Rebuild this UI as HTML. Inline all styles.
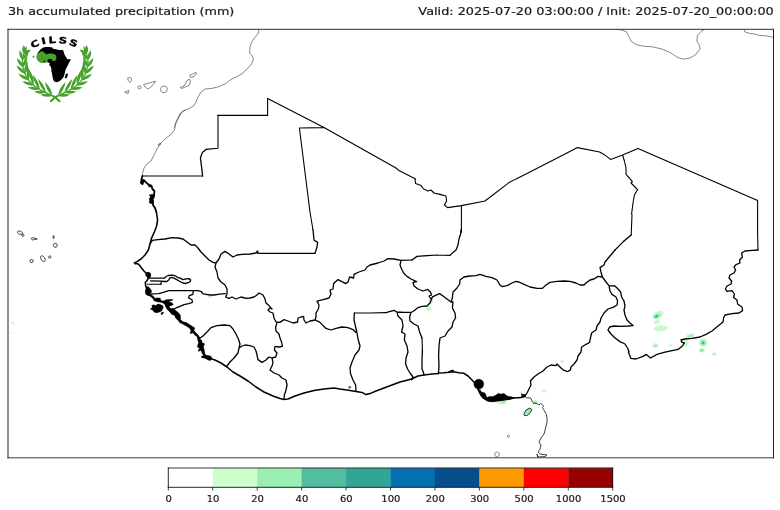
<!DOCTYPE html>
<html lang="en"><head><meta charset="utf-8"><title>3h accumulated precipitation (mm)</title>
<style>
html,body{margin:0;padding:0;background:#fff;}
body{width:780px;height:510px;overflow:hidden;font-family:"DejaVu Sans","Liberation Sans",sans-serif;}
svg{display:block;}
text{font-family:"DejaVu Sans","Liberation Sans",sans-serif;fill:#1a1a1a;}
.t{font-size:11.3px;stroke:#1a1a1a;stroke-width:0.22px;}
.k{font-size:8.4px;text-anchor:middle;stroke:#1a1a1a;stroke-width:0.18px;}
.bs{fill:none;stroke:#000;stroke-width:1.1;stroke-linejoin:round;stroke-linecap:round;}
.b{fill:none;stroke:#000;stroke-width:1.3;stroke-linejoin:round;stroke-linecap:round;}
.c{fill:none;stroke:#222;stroke-width:0.55;stroke-linejoin:round;stroke-linecap:round;}
.kc{fill:none;stroke:#000;stroke-width:1.55;stroke-linejoin:round;stroke-linecap:round;}
.kc2{fill:none;stroke:#000;stroke-width:1.8;stroke-linejoin:round;stroke-linecap:round;}
.cv{fill:none;stroke:#111;stroke-width:0.8;stroke-linejoin:round;}
.m{fill:#000;stroke:#000;stroke-width:0.15;stroke-linejoin:round;}
</style></head><body>
<svg width="780" height="510" viewBox="0 0 780 510">
<rect x="0" y="0" width="780" height="510" fill="#fff"/>
<text class="t" transform="translate(7.9,15.0) scale(1.131,1)">3h accumulated precipitation (mm)</text>
<text class="t" transform="translate(773.7,15.0) scale(1.136,1)" text-anchor="end">Valid: 2025-07-20 03:00:00 / Init: 2025-07-20_00:00:00</text>
<defs><clipPath id="ax"><rect x="8.2" y="29.5" width="765.3" height="428.5"/></clipPath>
<filter id="bl" x="-50%" y="-50%" width="200%" height="200%"><feGaussianBlur stdDeviation="0.6"/></filter></defs>
<g clip-path="url(#ax)">
<g id="precip">
<g filter="url(#bl)">
<ellipse cx="657.9" cy="315.0" rx="6.1" ry="3.5" transform="rotate(-28 657.9 315.0)" fill="#c6f9cc"/>
<ellipse cx="657.1" cy="316.0" rx="3.5" ry="2.2" transform="rotate(-28 657.1 316.0)" fill="#9aeeb4"/>
<ellipse cx="656.4" cy="316.4" rx="2.1" ry="1.3" transform="rotate(-28 656.4 316.4)" fill="#5cc0a2"/>
<ellipse cx="656.2" cy="316.5" rx="0.9" ry="0.6" transform="rotate(-28 656.2 316.5)" fill="#35a897"/>
<ellipse cx="656.8" cy="322.0" rx="3.4" ry="2.0" transform="rotate(-25 656.8 322.0)" fill="#c6f9cc"/>
<ellipse cx="660.8" cy="328.3" rx="7.1" ry="2.7" transform="rotate(-5 660.8 328.3)" fill="#c6f9cc"/>
<ellipse cx="655.4" cy="345.7" rx="3.0" ry="2.4" transform="rotate(0 655.4 345.7)" fill="#c6f9cc"/>
<ellipse cx="655.4" cy="345.9" rx="1.4" ry="1.0" transform="rotate(0 655.4 345.9)" fill="#9aeeb4"/>
<ellipse cx="670.3" cy="345.3" rx="1.5" ry="1.4" transform="rotate(0 670.3 345.3)" fill="#c6f9cc"/>
<ellipse cx="690.3" cy="336.1" rx="4.6" ry="2.4" transform="rotate(-20 690.3 336.1)" fill="#c6f9cc"/>
<ellipse cx="690.3" cy="336.3" rx="2.3" ry="1.2" transform="rotate(-20 690.3 336.3)" fill="#9aeeb4"/>
<ellipse cx="685.7" cy="343.0" rx="2.8" ry="3.5" transform="rotate(0 685.7 343.0)" fill="#c6f9cc"/>
<ellipse cx="680.7" cy="339.9" rx="1.3" ry="1.5" transform="rotate(0 680.7 339.9)" fill="#c6f9cc"/>
<ellipse cx="703.0" cy="342.6" rx="4.2" ry="4.3" transform="rotate(0 703.0 342.6)" fill="#c6f9cc"/>
<ellipse cx="703.0" cy="342.8" rx="2.7" ry="2.7" transform="rotate(0 703.0 342.8)" fill="#9aeeb4"/>
<ellipse cx="703.0" cy="342.8" rx="1.6" ry="1.6" transform="rotate(0 703.0 342.8)" fill="#5cc0a2"/>
<ellipse cx="703.0" cy="342.9" rx="0.7" ry="0.7" transform="rotate(0 703.0 342.9)" fill="#35a897"/>
<ellipse cx="701.9" cy="350.3" rx="3.0" ry="2.3" transform="rotate(0 701.9 350.3)" fill="#c6f9cc"/>
<ellipse cx="701.9" cy="350.4" rx="1.6" ry="1.3" transform="rotate(0 701.9 350.4)" fill="#9aeeb4"/>
<ellipse cx="701.9" cy="350.4" rx="0.7" ry="0.6" transform="rotate(0 701.9 350.4)" fill="#5cc0a2"/>
<ellipse cx="714.3" cy="354.0" rx="2.3" ry="1.7" transform="rotate(20 714.3 354.0)" fill="#c6f9cc"/>
<ellipse cx="714.3" cy="354.0" rx="1.0" ry="0.7" transform="rotate(20 714.3 354.0)" fill="#9aeeb4"/>
<ellipse cx="430.8" cy="301.2" rx="2.3" ry="2.6" transform="rotate(20 430.8 301.2)" fill="#c6f9cc"/>
<ellipse cx="428.5" cy="308.5" rx="2.6" ry="2.5" transform="rotate(0 428.5 308.5)" fill="#c6f9cc"/>
<ellipse cx="562.0" cy="361.4" rx="1.8" ry="1.5" transform="rotate(0 562.0 361.4)" fill="#c6f9cc"/>
<ellipse cx="544.0" cy="391.0" rx="2.4" ry="1.8" transform="rotate(0 544.0 391.0)" fill="#c6f9cc"/>
<ellipse cx="535.2" cy="402.3" rx="2.4" ry="2.1" transform="rotate(0 535.2 402.3)" fill="#c6f9cc"/>
<ellipse cx="535.2" cy="402.3" rx="1.5" ry="1.3" transform="rotate(0 535.2 402.3)" fill="#9aeeb4"/>
<ellipse cx="501.6" cy="402.6" rx="5.2" ry="1.7" transform="rotate(-5 501.6 402.6)" fill="#c6f9cc"/>
<ellipse cx="503.0" cy="402.4" rx="2.0" ry="0.9" transform="rotate(0 503.0 402.4)" fill="#9aeeb4"/>
<ellipse cx="535.6" cy="413.0" rx="0.8" ry="0.8" transform="rotate(0 535.6 413.0)" fill="#c6f9cc"/>
<ellipse cx="527.5" cy="412.0" rx="5.0" ry="3.0" transform="rotate(-42 527.5 412.0)" fill="#c6f9cc"/>
<path d="M524.0,414.0 L526.0,410.0 L530.0,408.0 L532.0,409.6 L530.0,413.0 L527.0,415.6 L524.4,415.6Z" fill="#9aeeb4"/>
<ellipse cx="210.0" cy="296.2" rx="2.2" ry="1.5" transform="rotate(-10 210.0 296.2)" fill="#b4f5c0"/>
<ellipse cx="12.9" cy="323.0" rx="1.6" ry="1.2" transform="rotate(20 12.9 323.0)" fill="#c6f9cc"/>
<ellipse cx="10.7" cy="332.7" rx="1.2" ry="0.7" transform="rotate(0 10.7 332.7)" fill="#c6f9cc"/>
</g>

</g>
<g id="coast">
<path class="c" d="M259.0,29.0 L258.4,33.0 L255.0,37.4 L251.6,42.0 L250.0,47.0 L249.6,53.0 L252.4,56.0 L253.4,59.4 L251.6,64.0 L248.0,68.0 L243.0,73.0 L237.0,76.6 L231.0,79.4 L226.0,83.4 L219.0,86.6 L212.0,88.4 L205.0,89.0 L201.0,92.0 L198.0,97.0 L196.0,102.0 L193.6,106.0 L189.0,108.6 L184.0,110.6 L180.4,113.0 L178.0,118.0 L175.6,123.0 L174.4,127.0 M128.0,78.0 L130.0,77.4 L131.6,78.6 L131.2,81.0 L130.0,82.6 L128.6,81.0Z M125.0,92.0 L129.0,90.6 L128.0,93.4Z M141.0,87.4 L140.7,88.3 L139.9,88.9 L138.9,88.9 L138.1,88.3 L137.8,87.4 L138.1,86.5 L138.9,85.9 L139.9,85.9 L140.7,86.5Z M144.0,84.4 L151.0,82.4 L155.6,81.2 L154.4,83.0 L151.0,87.0 L148.0,89.0 L145.6,87.4Z M167.2,89.4 L166.6,91.4 L164.9,92.6 L162.7,92.6 L161.0,91.4 L160.4,89.4 L161.0,87.4 L162.7,86.2 L164.9,86.2 L166.6,87.4Z M180.4,87.4 L184.0,86.0 L187.0,80.6 L189.6,79.0 L190.6,82.0 L189.0,85.4 L185.0,87.0 L182.0,88.4Z M190.0,75.0 L193.6,73.6 L196.0,72.4 L196.4,74.0 L194.0,76.4 L191.0,77.4Z M185.0,110.0 L182.0,112.0 L179.0,117.0 L176.0,123.0 L174.4,130.0 L171.0,134.4 L165.0,139.0 L160.0,144.0 L157.0,149.0 L154.0,155.0 L151.0,161.0 L147.0,164.0 L144.0,168.0 L142.6,173.0 L142.4,176.0 M160.5,143.5 L160.6,143.9 L160.4,144.5 L159.9,145.0 L159.3,145.4 L158.7,145.5 L158.3,145.3 L158.2,144.9 L158.4,144.3 L158.9,143.8 L159.5,143.4 L160.1,143.3Z M615.0,29.2 L621.9,30.1 L626.5,31.9 L628.8,36.5 L631.2,41.2 L635.8,44.6 L643.8,46.2 L653.1,46.9 L662.3,49.2 L670.4,52.7 L677.3,57.3 L683.1,59.2 L690.0,58.0 L695.8,54.5 L699.9,49.2 L699.7,45.8 L696.9,41.2 L697.4,35.4 L701.1,31.5 L705.0,29.2 M744.2,29.2 L744.9,31.9 L750.0,33.5 L755.8,34.2 L759.2,35.4 L766.2,35.8 L771.9,37.0 L773.5,37.7 M509.4,436.2 L509.2,436.8 L508.7,437.2 L508.1,437.2 L507.6,436.8 L507.4,436.2 L507.6,435.6 L508.1,435.2 L508.7,435.2 L509.2,435.6Z M499.4,454.4 L498.9,455.8 L497.7,456.7 L496.3,456.7 L495.1,455.8 L494.6,454.4 L495.1,453.0 L496.3,452.1 L497.7,452.1 L498.9,453.0Z M350.6,387.6 L350.5,387.9 L350.1,388.1 L349.6,388.2 L349.1,388.1 L348.7,387.9 L348.6,387.6 L348.7,387.3 L349.1,387.1 L349.6,387.0 L350.1,387.1 L350.5,387.3Z M350.4,387.0 L350.3,387.3 L350.0,387.5 L349.6,387.6 L349.2,387.5 L348.9,387.3 L348.8,387.0 L348.9,386.7 L349.2,386.5 L349.6,386.4 L350.0,386.5 L350.3,386.7Z"/>
<path class="cv" d="M525.0,396.0 L526.4,398.0 L529.0,397.6 L531.0,398.4 L532.0,401.0 L533.6,403.6 L536.0,403.0 L539.0,405.0 L540.4,403.6 L542.0,404.4 L543.6,406.0 L542.4,407.6 L543.6,409.6 L545.0,412.0 L546.4,414.4 L547.0,418.0 L547.0,422.0 L545.6,428.0 L544.0,434.0 L541.0,438.0 L539.0,442.0 L541.0,445.0 L540.0,449.0 L538.0,452.0 L540.0,454.0 L547.0,455.0 L545.0,456.6 L538.0,457.0 L537.0,454.0 L538.0,457.6 M524.0,414.0 L526.0,410.0 L530.0,408.0 L532.0,409.6 L530.0,413.0 L527.0,415.6 L524.4,415.6Z M22.5,233.6 L21.9,234.2 L20.8,234.4 L19.5,234.2 L18.3,233.5 L17.6,232.6 L17.5,231.8 L18.1,231.1 L19.2,230.9 L20.5,231.2 L21.7,231.8 L22.4,232.7Z M24.0,235.3 L23.8,236.0 L23.3,236.3 L22.6,236.3 L22.1,236.0 L21.9,235.3 L22.1,234.7 L22.6,234.3 L23.3,234.3 L23.8,234.7Z M31.3,238.3 L33.3,237.6 L35.3,238.4 L37.3,239.1 L34.9,239.3 L32.7,240.0 L31.7,239.3Z M54.1,237.1 L54.1,237.9 L53.9,238.5 L53.6,238.7 L53.3,238.5 L53.1,237.9 L53.1,237.1 L53.1,236.3 L53.3,235.7 L53.6,235.5 L53.9,235.7 L54.1,236.3Z M57.3,245.3 L57.0,246.5 L56.0,247.2 L54.7,247.2 L53.7,246.5 L53.3,245.3 L53.7,244.2 L54.7,243.4 L56.0,243.4 L57.0,244.2Z M44.5,257.7 L45.1,259.2 L45.1,260.6 L44.5,261.4 L43.5,261.5 L42.3,260.9 L41.3,259.6 L40.7,258.1 L40.7,256.7 L41.3,255.9 L42.4,255.8 L43.5,256.5Z M50.9,257.1 L50.7,257.8 L50.1,258.2 L49.4,258.2 L48.8,257.8 L48.5,257.1 L48.8,256.4 L49.4,255.9 L50.1,255.9 L50.7,256.4Z M33.2,260.9 L32.9,261.9 L32.1,262.5 L31.1,262.5 L30.3,261.9 L30.0,260.9 L30.3,260.0 L31.1,259.4 L32.1,259.4 L32.9,260.0Z"/>

</g>
<g id="borders">
<path class="bs" d="M142.4,176.0 L202.6,176.0 M206.0,149.4 L218.0,148.2 M218.0,148.2 L218.0,115.4 M217.6,115.4 L267.6,115.4 M267.6,115.4 L267.6,98.4 M267.6,98.4 L324.0,127.6 M324.0,127.6 L299.4,128.0 M299.4,128.0 L310.0,212.0 M310.0,212.0 L313.0,230.0 M315.0,253.4 L290.0,253.4 M290.0,253.4 L258.0,253.4 M324.0,127.6 L396.0,168.0 M396.0,168.0 L399.0,170.6 M399.0,170.6 L415.6,179.0 M415.6,179.0 L415.0,179.0 L415.6,183.6 L421.0,185.6 L423.6,189.0 L428.0,191.0 L431.0,190.0 L434.0,193.0 L440.0,194.4 L446.0,196.0 L446.6,201.0 L444.4,205.0 L447.6,207.6 M447.6,207.6 L461.4,205.6 M461.4,205.6 L485.0,201.0 M485.0,201.0 L509.0,182.6 M509.0,182.6 L566.0,153.4 M566.0,153.4 L577.4,147.6 M577.4,147.6 L599.6,152.0 M599.6,152.0 L604.0,154.4 L610.6,159.4 M610.6,159.4 L622.6,155.0 M622.6,155.0 L638.0,148.4 M638.0,148.4 L757.6,200.4 M757.6,200.4 L757.6,232.0 M757.6,232.0 L758.0,250.0 M622.6,155.0 L624.4,161.0 L626.0,168.0 L626.0,174.4 L629.0,177.6 L632.4,181.6 L631.0,183.0 L634.0,186.0 L637.6,189.6 L634.4,195.0 L633.0,203.0 M633.0,203.0 L631.6,214.0 M631.6,214.0 L632.0,215.0 M632.0,215.0 L631.2,235.0 M624.0,241.0 L615.0,250.0 M461.4,205.6 L461.4,232.0 M450.0,255.4 L438.0,255.0 M438.0,255.0 L427.0,255.6 M412.0,260.0 L401.0,260.4 M386.0,312.6 L370.0,313.0 M370.0,313.0 L354.4,313.0 M422.0,338.0 L422.4,350.0 M149.5,278.1 L164.5,278.1 M161.0,284.2 L147.5,284.2"/>
<path class="b" d="M202.6,176.0 L201.6,167.0 L200.4,158.0 L202.4,152.4 L206.0,149.4 M313.0,230.0 L314.0,240.0 L317.6,242.4 L317.0,247.0 L315.0,253.4 M258.0,253.4 L258.0,253.0 L257.6,251.0 L256.0,253.0 L250.0,254.0 L242.0,254.4 L237.0,255.0 L233.0,257.0 L229.0,254.0 L225.0,251.4 L221.0,254.0 L219.0,259.0 L216.0,263.0 M758.0,250.0 L752.0,250.4 L745.0,251.0 L741.6,253.0 L742.4,257.0 L739.6,260.0 L740.0,263.0 L736.0,264.6 L734.0,267.0 L735.6,270.0 L734.0,273.0 L730.0,275.0 L729.0,278.0 L731.6,281.0 L731.0,284.0 L727.0,286.0 L725.4,289.0 L727.0,291.4 L732.0,290.6 L734.4,294.0 L733.6,297.4 L737.0,300.0 L737.6,304.0 L742.0,307.0 L742.6,310.6 L739.0,313.0 L732.0,313.6 L725.0,315.0 L723.6,318.0 L723.0,322.0 L718.0,326.0 L712.0,331.0 L706.0,334.4 L700.0,337.0 L692.0,338.4 L685.0,339.0 L681.0,340.0 L682.0,342.4 L684.4,343.0 L682.4,346.0 L678.0,349.4 L672.0,350.6 L664.0,352.4 L657.0,354.4 L650.4,358.0 L646.4,354.4 L643.0,356.4 L636.0,359.0 L631.0,358.4 L628.4,352.0 L629.0,352.0 L628.0,349.0 L625.0,344.0 L620.0,341.6 L615.0,338.0 L611.0,334.0 L608.0,330.0 L609.6,327.0 L614.0,326.0 L620.0,326.4 L628.0,326.0 L633.0,325.6 L630.0,323.0 L627.0,320.0 L625.0,315.0 L624.0,310.0 L625.0,306.0 L624.0,301.0 L621.6,297.0 L620.6,292.0 L618.0,289.0 L615.0,286.0 L609.0,285.6 M609.0,285.6 L606.0,282.0 L602.4,277.0 M631.2,235.0 L624.0,241.0 M615.0,250.0 L610.0,256.0 L605.0,262.0 L604.0,265.0 L600.0,267.6 L601.0,272.0 L602.4,277.0 M602.4,277.0 L598.0,276.4 L594.0,279.0 L590.0,280.0 L586.0,283.0 L584.0,285.0 L580.0,285.0 L576.0,283.0 L570.0,281.4 L564.0,281.0 L557.0,281.4 L550.0,282.4 L546.0,285.0 L542.4,288.4 L537.0,288.4 L530.0,287.0 L524.0,284.4 L519.0,282.0 L516.0,281.4 L512.0,283.0 L507.0,285.6 L502.0,286.6 L500.0,285.0 L497.0,280.0 L492.0,277.6 L486.0,276.4 L480.0,274.4 L476.0,275.6 L470.0,276.0 L464.0,277.0 L460.0,280.0 L459.6,284.0 L457.0,288.0 L453.0,292.0 L452.4,298.0 L451.0,302.0 M609.0,285.6 L610.0,291.0 L612.0,294.4 L616.0,297.0 L617.6,301.0 L617.0,305.0 L613.0,307.4 L608.0,309.0 L604.0,313.0 L601.0,318.0 L600.0,322.0 L597.0,326.0 L596.0,330.0 L591.6,333.0 L590.0,340.0 L589.6,342.4 L585.0,345.0 L581.6,347.0 L581.0,352.0 L578.0,356.0 L577.0,360.0 L574.0,364.0 L571.0,367.0 L570.4,370.0 L567.6,371.6 L564.0,370.4 L561.0,368.0 L557.0,364.0 L556.0,365.6 L551.0,365.0 L547.0,367.0 L543.0,371.0 L538.0,374.0 L534.0,377.0 L530.4,381.0 L531.0,385.0 L529.0,389.0 L527.0,393.0 L525.0,396.0 M448.7,372.0 L451.3,370.7 L453.3,370.4 M461.4,232.0 L461.0,230.0 L460.6,234.0 L459.0,239.0 L458.0,245.0 L456.0,250.0 L453.0,252.4 L450.0,255.4 M427.0,255.6 L417.0,256.4 L412.0,260.0 M401.0,260.4 L394.0,259.0 L388.0,258.6 L384.0,261.0 L378.0,263.0 L370.0,265.0 L367.0,267.0 L365.0,270.0 L359.0,272.0 L354.0,274.4 L353.6,278.0 L349.6,277.0 L348.0,282.0 L345.6,283.6 L342.0,281.6 L338.0,279.6 L333.6,283.6 L333.0,289.0 L330.0,290.0 L331.0,294.0 L329.0,298.0 L324.0,299.4 L319.0,300.6 L317.0,301.4 L319.0,305.0 L318.4,309.0 L316.0,313.0 L316.0,317.0 L315.0,320.0 M401.0,260.4 L400.0,265.0 L401.6,269.0 L403.6,273.0 L407.0,276.4 L411.0,279.0 L416.6,281.6 L413.0,282.4 L414.0,286.0 L418.0,289.0 L423.0,291.0 L427.6,289.4 L430.4,292.0 L431.6,295.0 L429.0,296.0 L431.0,299.0 L432.4,297.0 M432.4,297.0 L435.0,295.6 L439.6,293.6 L443.0,296.0 L447.0,299.0 L451.0,302.0 M432.4,297.0 L430.0,303.0 L427.0,306.0 L422.0,306.4 L418.0,307.6 L415.0,310.0 L412.0,312.0 L411.0,312.4 L404.0,312.4 L397.0,312.0 L394.0,310.4 L386.0,312.6 M354.4,313.0 L354.0,320.0 L355.6,327.0 L357.0,333.0 L358.0,339.0 L360.0,346.0 L359.0,350.0 L355.0,355.0 L352.0,362.0 L350.0,368.0 L350.6,374.0 L353.0,380.0 L355.6,385.0 L356.0,391.0 M397.0,312.0 L398.0,316.0 L402.0,320.0 L403.0,326.0 L401.6,332.0 L405.0,334.0 L404.4,340.0 L407.0,346.0 L408.0,352.0 L406.0,358.0 L405.6,364.0 L407.6,369.0 L410.0,373.0 L413.0,377.0 L411.6,379.0 M411.0,312.4 L409.6,317.0 L410.0,321.0 L414.0,324.0 L418.0,326.0 L419.6,332.0 L422.0,338.0 M422.4,350.0 L422.0,360.0 L422.0,369.0 L423.6,373.0 L424.0,375.0 M451.0,302.0 L453.0,302.0 L452.4,308.0 L455.0,313.0 L455.6,318.0 L453.0,322.0 L452.0,327.0 L448.0,331.0 L445.0,336.0 L440.0,338.0 L439.0,346.0 L438.6,356.0 L439.0,366.0 L438.4,373.6 M225.6,297.0 L229.0,298.4 L232.0,297.0 L236.0,299.0 L241.0,297.0 L246.0,298.4 L250.0,298.0 L254.0,297.0 L257.0,295.0 L259.0,293.0 L263.0,295.0 L265.0,299.0 L266.0,303.0 L269.0,305.6 L272.0,309.0 L270.0,308.0 L268.0,310.0 L270.0,312.0 L273.0,313.0 L274.0,318.0 L276.0,322.0 L280.0,322.4 L284.0,319.6 L288.0,321.0 L293.0,323.0 L297.6,322.0 L298.0,318.0 L301.0,317.0 L303.6,316.4 L304.0,320.0 L306.0,323.0 L310.0,321.0 L315.0,320.0 M216.0,263.0 L215.0,267.0 L217.0,272.0 L218.0,278.0 L221.0,282.0 L225.0,285.0 L227.0,289.0 L227.0,294.0 L225.6,297.0 M315.4,320.0 L320.0,322.4 L323.0,325.6 L326.0,328.4 L331.0,330.0 L336.0,328.4 L342.0,327.0 L348.0,327.6 L353.0,329.6 L356.0,332.4 M277.0,323.0 L275.6,327.0 L276.0,331.0 L279.0,334.0 L280.0,338.0 L281.6,342.0 L282.4,346.4 L279.0,347.0 L275.0,346.4 L274.4,350.0 L277.0,353.0 L275.6,357.0 L272.0,358.0 M272.0,358.0 L273.0,362.4 L272.0,366.0 L270.0,370.0 L274.0,373.0 L279.0,375.0 L282.0,378.0 L286.0,380.0 L287.0,385.0 L286.0,390.0 L284.4,395.0 L284.0,399.0 M272.0,358.0 L269.0,357.0 L266.0,360.0 L262.0,362.4 L258.0,359.6 L257.0,355.0 L256.0,351.0 L254.0,347.0 L250.0,345.6 L245.0,345.0 L242.0,346.0 L239.0,348.0 M239.0,348.0 L238.0,353.0 L234.0,358.0 L230.0,362.0 L227.0,366.0 M239.0,348.0 L240.0,344.0 L238.4,339.0 L236.0,334.0 L233.0,329.0 L230.0,325.6 L224.0,325.0 L217.0,325.6 L211.0,327.6 L207.0,332.0 L203.0,336.0 L200.0,338.0 M150.0,244.0 L152.4,240.4 L158.0,239.6 L165.0,239.0 L172.0,237.6 L178.0,238.0 L183.0,239.0 L187.0,242.0 L191.0,245.0 L195.0,245.0 L198.0,248.0 L201.0,252.0 L205.0,256.0 L209.0,260.0 L213.0,262.4 L216.0,263.0 M164.5,278.1 L166.0,276.5 L168.3,275.5 L172.2,275.2 L175.2,275.8 L177.5,277.3 L180.2,278.1 L182.9,279.6 L186.0,278.8 L189.1,278.6 L190.6,280.0 L190.2,281.5 L188.3,282.7 L185.2,283.5 L182.2,282.7 L179.5,281.2 L176.8,279.6 L174.1,278.1 L171.4,277.3 L169.8,278.1 L168.7,280.0 L166.8,281.5 L164.5,281.5 L161.4,281.2 L161.0,284.2 M150.6,280.9 L161.4,281.2 M148.7,294.6 L153.3,293.9 L158.7,293.7 L163.3,292.3 L168.7,290.6 L176.7,290.6 L186.0,290.6 L193.3,290.6 L198.0,290.7 L201.3,291.7 L202.7,293.7 L206.0,294.3 L210.0,295.0 L214.0,295.0 L218.0,294.3 L222.0,293.9 L225.3,293.7 M193.3,290.6 L192.9,294.3 L189.3,295.7 L188.7,297.9 L192.0,299.7 L192.4,302.3 L188.7,303.7 L184.0,304.6 L180.0,306.3 L176.7,307.7 L174.0,309.0"/>
<path class="kc" d="M156.4,212.0 L157.6,220.0 L156.6,226.0 L154.4,232.0 L151.6,238.0 L150.0,244.0 L148.4,250.0 L145.0,255.0 L141.0,259.0 L137.0,261.6 L134.4,263.0 L135.3,263.3 L138.7,264.3 L141.3,267.7 L144.0,271.0 L146.7,273.7 L148.0,275.7 L148.0,279.0 L146.7,281.0 L145.3,282.3 L145.7,285.7 L146.7,288.3 L146.0,293.7 L148.0,295.0 L148.0,294.0 L152.7,297.3 L156.0,300.0 L161.3,301.3 L165.3,303.3 L166.7,307.3 L170.0,311.3 L173.3,314.0 L177.3,316.0 L180.0,320.0 L184.0,323.3 L189.3,326.7 L192.7,330.0 L196.0,334.0 L199.3,338.0 L200.0,342.0 L200.7,346.0 L202.0,350.0 L204.0,354.0 L206.7,356.7 L209.3,358.0 L209.0,358.0 L215.0,360.0 L221.0,363.0 L227.0,367.0 L233.0,372.0 L240.0,376.0 L248.0,381.0 L256.0,387.0 L264.0,392.0 L273.0,396.0 L280.0,398.6 L284.0,399.4 L288.0,399.0 L295.0,396.0 L304.0,393.0 L314.0,390.6 L324.0,389.0 L334.0,388.0 L340.0,389.0 L350.0,390.4 L356.0,391.4 L362.0,392.4 L366.0,394.6 L370.0,393.6 L376.0,391.0 L384.0,388.0 L392.0,385.0 L400.0,382.0 L406.0,380.6 L411.6,379.0 L418.0,376.0 L424.0,375.0 L432.0,374.0 L438.4,373.6 L438.7,373.1 L444.0,372.8 L449.3,372.3 L453.3,371.7 L458.7,372.7 L464.0,373.3 L468.0,376.0 L472.0,380.0 L474.7,382.7 L477.3,386.7 L478.7,390.7 L480.7,394.7 L483.3,398.0 L487.3,400.4 L492.0,400.7 L498.7,400.0 L506.7,399.3 L513.3,398.0 L521.3,397.6 L524.7,396.0"/>
<path class="kc2" d="M142.4,176.0 L141.6,179.0 L141.0,183.0 L142.6,184.0 L143.6,180.0 L146.0,182.4 L149.0,185.0 L151.6,186.0 L152.4,189.0 L154.4,191.0 L154.0,195.0 L152.4,198.0 L150.0,199.6 L151.0,203.0 L153.0,201.0 L153.0,205.0 L155.0,208.0 L156.4,212.0"/>
<path class="m" d="M521.3,393.3 L523.3,394.7 L525.1,394.0 L525.6,396.0 L524.0,397.6 L521.6,397.3Z M412.6,379.4 L412.3,380.1 L411.6,380.4 L410.9,380.1 L410.6,379.4 L410.9,378.7 L411.6,378.4 L412.3,378.7Z M402.2,332.0 L401.9,332.5 L401.3,332.5 L401.0,332.0 L401.3,331.5 L401.9,331.5Z M136.3,263.5 L136.0,264.2 L135.3,264.5 L134.7,264.2 L134.4,263.5 L134.7,262.9 L135.3,262.6 L136.0,262.9Z M483.8,384.1 L483.5,386.0 L482.4,387.7 L480.7,388.8 L478.8,389.2 L476.8,388.8 L475.2,387.7 L474.1,386.0 L473.7,384.1 L474.1,382.1 L475.2,380.5 L476.8,379.4 L478.8,379.0 L480.7,379.4 L482.4,380.5 L483.5,382.1Z M480.3,389.7 L481.8,392.0 L484.9,392.8 L486.1,395.1 L486.8,397.4 L489.5,396.2 L492.6,396.6 L495.7,395.1 L498.4,393.2 L501.1,393.9 L503.8,393.2 L505.7,394.7 L508.0,396.2 L511.1,396.5 L514.2,397.8 L514.2,398.5 L509.5,399.7 L504.2,400.5 L498.8,401.2 L493.4,402.0 L488.0,401.6 L484.5,399.3 L481.1,396.2 L479.2,392.8 L477.6,389.3Z M521.1,392.4 L522.2,393.9 L523.8,394.3 L524.9,395.1 L523.4,396.2 L521.8,396.6 L522.2,395.1Z M146.8,272.3 L148.7,271.9 L150.6,273.1 L151.0,275.4 L150.2,277.7 L149.1,278.5 L147.5,277.7 L145.6,275.4 L145.2,273.5Z M146.0,286.5 L148.3,286.5 L150.2,288.5 L151.4,290.4 L150.6,292.3 L148.3,293.1 L146.4,293.1 L145.6,290.8Z M145.4,290.0 L151.5,290.0 L151.5,293.1 L149.2,294.2 L153.1,295.8 L155.0,298.5 L156.5,297.7 L160.4,298.1 L160.8,300.8 L163.8,300.8 L166.2,299.6 L172.7,299.2 L172.7,300.4 L168.5,301.5 L172.3,302.7 L173.5,305.0 L170.8,305.8 L169.2,306.5 L170.8,308.5 L173.1,308.1 L175.4,310.0 L177.7,311.9 L180.0,314.2 L180.4,316.9 L180.0,319.2 L181.9,321.5 L185.4,322.3 L188.5,323.8 L192.3,326.2 L195.0,328.5 L193.8,329.0 L190.8,329.0 L186.9,325.8 L183.8,323.8 L180.8,323.1 L179.2,320.0 L176.9,317.3 L174.6,315.4 L171.5,314.2 L169.6,311.5 L167.3,309.6 L165.8,306.9 L164.6,304.6 L162.7,302.7 L159.2,302.3 L155.8,301.5 L153.8,300.8 L152.7,298.1 L150.8,296.5 L147.7,295.0 L145.8,293.5Z M150.0,308.5 L152.3,308.1 L151.5,305.8 L153.5,304.6 L155.4,305.4 L158.1,303.8 L160.4,304.6 L162.7,305.4 L163.5,307.3 L162.7,309.2 L161.5,311.2 L159.2,312.3 L156.5,312.9 L154.2,312.3 L152.9,310.4 L150.8,309.6Z M160.8,313.1 L163.1,311.8 L163.8,312.7 L162.3,314.6 L161.2,314.8Z M175.0,315.0 L180.4,315.0 L180.8,318.1 L179.6,320.4 L182.7,321.9 L186.5,322.3 L189.6,325.0 L191.5,326.2 L194.2,326.9 L194.6,329.6 L193.5,330.8 L195.8,333.1 L198.1,335.0 L200.0,337.7 L200.8,341.2 L201.9,343.1 L204.6,344.2 L203.5,346.5 L204.2,349.6 L205.0,353.5 L201.9,353.5 L201.2,350.4 L198.5,351.2 L199.6,348.8 L197.3,346.5 L198.1,344.2 L198.5,341.9 L197.3,338.8 L196.9,336.5 L195.0,335.4 L193.1,333.1 L191.2,333.8 L189.6,333.1 L190.8,331.5 L190.4,329.2 L188.1,327.3 L185.0,325.4 L181.9,323.8 L179.6,322.7 L178.1,320.4 L176.2,318.8 L175.0,317.3Z M197.7,340.0 L201.9,340.0 L202.3,342.7 L204.6,343.5 L204.2,345.4 L202.3,346.5 L203.8,348.5 L204.6,350.8 L204.2,353.5 L205.4,355.0 L209.2,355.4 L211.5,356.5 L211.9,359.6 L210.0,360.8 L207.7,360.0 L205.4,358.5 L201.5,357.7 L201.2,356.2 L203.5,355.4 L202.3,353.8 L202.7,351.5 L200.8,350.4 L198.5,351.5 L198.1,350.0 L199.6,348.8 L197.3,346.9 L197.7,344.6 L199.2,343.1 L198.1,341.5Z M151.5,194.3 L155.0,194.3 L154.6,197.4 L153.5,198.9 L153.8,201.2 L151.9,202.4 L149.6,203.2 L148.8,202.0 L150.8,200.5 L149.2,198.5 L150.4,196.6 L148.8,195.1Z M140.8,181.2 L142.3,179.3 L143.3,179.7 L142.8,182.0 L142.5,184.3 L141.2,184.2Z M151.8,185.7 L151.6,186.5 L150.9,187.0 L150.0,187.2 L149.1,187.0 L148.4,186.5 L148.2,185.7 L148.4,184.9 L149.1,184.4 L150.0,184.2 L150.9,184.4 L151.6,184.9Z"/>

</g>
<g id="logo">
<g filter="url(#bl)">
<path d="M36.80,56.60 C36.84,55.93 37.16,54.26 37.50,53.50 C37.84,52.74 38.91,51.16 39.50,50.50 C40.09,49.84 41.49,48.64 42.20,48.20 C42.91,47.76 44.34,47.15 45.20,47.00 C46.06,46.85 48.23,46.95 49.10,47.00 C49.98,47.05 51.73,47.21 52.20,47.40 C52.68,47.59 52.42,48.26 52.90,48.50 C53.38,48.74 55.14,49.10 56.00,49.30 C56.86,49.50 58.94,50.00 59.80,50.10 C60.66,50.20 62.41,49.86 62.90,50.10 C63.39,50.34 63.46,51.38 63.70,52.00 C63.94,52.62 64.46,54.38 64.80,55.10 C65.14,55.83 66.01,57.27 66.40,57.80 C66.79,58.32 67.38,59.14 67.90,59.30 C68.43,59.46 70.36,58.81 70.60,59.10 C70.84,59.39 70.09,60.95 69.80,61.60 C69.51,62.25 68.62,63.67 68.30,64.30 C67.97,64.92 67.49,66.02 67.20,66.60 C66.91,67.17 66.21,68.51 66.00,68.90 C65.79,69.29 65.70,68.95 65.50,69.70 C65.30,70.45 64.76,73.83 64.40,74.90 C64.04,75.98 63.19,77.54 62.60,78.30 C62.01,79.06 60.49,80.51 59.70,81.00 C58.91,81.49 57.05,82.24 56.30,82.20 C55.55,82.16 54.16,81.33 53.70,80.70 C53.24,80.08 52.83,78.15 52.60,77.20 C52.38,76.25 52.07,73.94 51.90,73.10 C51.73,72.26 51.26,71.03 51.20,70.50 C51.14,69.97 51.48,69.39 51.40,68.90 C51.32,68.41 50.89,67.07 50.60,66.60 C50.31,66.12 49.20,65.49 49.10,65.10 C49.00,64.71 49.90,63.84 49.80,63.50 C49.70,63.16 48.88,62.54 48.30,62.40 C47.72,62.26 46.06,62.40 45.20,62.40 C44.34,62.40 42.21,62.55 41.40,62.40 C40.59,62.25 39.23,61.64 38.70,61.20 C38.18,60.76 37.44,59.48 37.20,58.90 C36.96,58.32 36.76,57.27 36.80,56.60Z" fill="#000"/>
<ellipse cx="66.4" cy="75.8" rx="1.15" ry="2.7" transform="rotate(20 66.4 75.8)" fill="#000"/>
<path d="M36.62,56.62 C36.67,55.91 37.00,54.48 37.38,53.92 C37.77,53.37 39.10,52.49 39.69,52.15 C40.29,51.82 41.58,51.17 42.15,51.23 C42.73,51.29 43.81,52.25 44.31,52.62 C44.81,52.98 45.65,54.02 46.15,54.15 C46.65,54.29 47.75,53.79 48.31,53.69 C48.87,53.60 50.02,53.38 50.62,53.38 C51.21,53.38 52.45,53.53 53.08,53.69 C53.70,53.86 55.20,54.23 55.62,54.69 C56.03,55.15 56.34,56.74 56.38,57.38 C56.43,58.03 56.32,59.37 56.00,59.85 C55.68,60.33 54.33,61.13 53.85,61.23 C53.37,61.33 52.44,60.88 52.15,60.62 C51.87,60.35 51.90,59.29 51.54,59.08 C51.17,58.87 49.69,58.89 49.23,58.92 C48.77,58.95 48.06,58.92 47.85,59.31 C47.63,59.69 47.85,61.61 47.54,62.00 C47.23,62.39 45.77,62.63 45.38,62.46 C45.00,62.29 44.69,60.77 44.46,60.62 C44.23,60.46 43.71,60.96 43.54,61.23 C43.37,61.50 43.39,62.58 43.08,62.77 C42.76,62.96 41.52,62.91 41.00,62.77 C40.48,62.62 39.43,62.02 38.92,61.62 C38.41,61.21 37.21,60.16 36.92,59.54 C36.63,58.91 36.56,57.32 36.62,56.62Z" fill="#46a22c"/>
<circle cx="33.5" cy="56.8" r="0.95" fill="#46a22c"/>
<path d="M59.90,101.60 L59.03,100.78 L58.15,99.96 L57.28,99.15 L56.40,98.33 L55.53,97.51 L54.51,96.90 L53.44,96.36 L52.37,95.82 L51.30,95.27 L50.24,94.73 L49.17,94.19 L48.10,93.65 L47.02,93.13 L45.95,92.60 L44.87,92.08 L43.79,91.56 L42.72,91.03 L41.64,90.51 L40.59,89.94 L39.59,89.29 L38.58,88.64 L37.57,87.99 L36.57,87.34 L35.56,86.69 L34.56,86.04 L33.69,85.22 L32.83,84.38 L31.96,83.55 L31.10,82.72 L30.24,81.89 L29.38,81.06 L28.61,80.16 L28.01,79.12 L27.42,78.08 L26.82,77.04 L26.23,76.00 L25.63,74.96 L25.04,73.92 L24.60,72.82 L24.26,71.67 L23.93,70.52 L23.59,69.37 L23.25,68.22 L22.91,67.07 L22.60,65.92 L22.56,64.72 L22.52,63.53 L22.49,62.33 L22.45,61.13 L22.41,59.94 L22.59,58.76 L22.88,57.60 L23.18,56.44 L23.47,55.28 L23.77,54.12 L24.35,53.08 L24.97,52.05 L25.58,51.03 L26.20,50.00" fill="none" stroke="#46a22c" stroke-width="1.3" stroke-linecap="round"/>
<path d="M59.90,101.60 L59.03,100.78 L58.15,99.96 L57.28,99.15 L56.40,98.33 L55.53,97.51 L54.51,96.90 L53.44,96.36 L52.37,95.82" fill="none" stroke="#46a22c" stroke-width="2.0" stroke-linecap="butt"/>
<path d="M52.37,95.82 Q47.65,92.34 40.43,94.65 Q47.07,98.31 52.37,95.82Z M52.37,95.82 Q51.81,88.48 44.75,81.75 Q46.53,91.34 52.37,95.82Z M45.95,92.60 Q41.13,89.25 33.98,91.75 Q40.71,95.24 45.95,92.60Z M45.95,92.60 Q45.20,85.28 37.97,78.73 Q40.00,88.27 45.95,92.60Z M39.59,89.29 Q35.08,85.53 27.73,87.40 Q34.14,91.46 39.59,89.29Z M39.59,89.29 Q39.47,81.93 32.83,74.78 Q34.03,84.46 39.59,89.29Z M33.69,85.22 Q29.83,80.79 22.29,81.47 Q27.96,86.49 33.69,85.22Z M33.69,85.22 Q34.74,77.93 29.32,69.82 Q28.97,79.57 33.69,85.22Z M28.61,80.16 Q25.83,74.99 18.32,73.98 Q22.74,80.13 28.61,80.16Z M28.61,80.16 Q31.28,73.92 27.85,65.68 Q25.29,74.23 28.61,80.16Z M25.04,73.92 Q23.50,68.26 16.42,65.58 Q19.33,72.57 25.04,73.92Z M25.04,73.92 Q28.95,69.07 27.31,61.12 Q23.04,68.02 25.04,73.92Z M22.91,67.07 Q22.88,61.56 16.87,57.88 Q17.87,64.86 22.91,67.07Z M22.91,67.07 Q27.54,63.77 27.35,56.46 Q22.01,61.46 22.91,67.07Z M22.41,59.94 Q24.08,55.05 19.54,50.36 Q18.33,56.78 22.41,59.94Z M22.41,59.94 Q27.39,58.58 28.74,52.20 Q22.75,54.79 22.41,59.94Z M23.77,54.12 Q26.79,50.36 23.82,45.12 Q20.79,50.32 23.77,54.12Z M23.77,54.12 Q28.40,54.64 30.84,49.41 Q25.08,49.64 23.77,54.12Z M24.35,53.08 Q27.42,50.76 26.67,45.95 Q23.23,49.40 24.35,53.08Z" fill="#46a22c"/>
<path d="M50.50,101.60 L51.37,100.78 L52.25,99.96 L53.12,99.15 L54.00,98.33 L54.87,97.51 L55.89,96.90 L56.96,96.36 L58.03,95.82 L59.10,95.27 L60.16,94.73 L61.23,94.19 L62.30,93.65 L63.38,93.13 L64.45,92.60 L65.53,92.08 L66.61,91.56 L67.68,91.03 L68.76,90.51 L69.81,89.94 L70.81,89.29 L71.82,88.64 L72.83,87.99 L73.83,87.34 L74.84,86.69 L75.84,86.04 L76.71,85.22 L77.57,84.38 L78.44,83.55 L79.30,82.72 L80.16,81.89 L81.02,81.06 L81.79,80.16 L82.39,79.12 L82.98,78.08 L83.58,77.04 L84.17,76.00 L84.77,74.96 L85.36,73.92 L85.80,72.82 L86.14,71.67 L86.47,70.52 L86.81,69.37 L87.15,68.22 L87.49,67.07 L87.80,65.92 L87.84,64.72 L87.88,63.53 L87.91,62.33 L87.95,61.13 L87.99,59.94 L87.81,58.76 L87.52,57.60 L87.22,56.44 L86.93,55.28 L86.63,54.12 L86.05,53.08 L85.43,52.05 L84.82,51.03 L84.20,50.00" fill="none" stroke="#46a22c" stroke-width="1.3" stroke-linecap="round"/>
<path d="M50.50,101.60 L51.37,100.78 L52.25,99.96 L53.12,99.15 L54.00,98.33 L54.87,97.51 L55.89,96.90 L56.96,96.36 L58.03,95.82" fill="none" stroke="#46a22c" stroke-width="2.0" stroke-linecap="butt"/>
<path d="M58.03,95.82 Q63.33,98.31 69.97,94.65 Q62.75,92.34 58.03,95.82Z M58.03,95.82 Q63.87,91.34 65.65,81.75 Q58.59,88.48 58.03,95.82Z M64.45,92.60 Q69.69,95.24 76.42,91.75 Q69.27,89.25 64.45,92.60Z M64.45,92.60 Q70.40,88.27 72.43,78.73 Q65.20,85.28 64.45,92.60Z M70.81,89.29 Q76.26,91.46 82.67,87.40 Q75.32,85.53 70.81,89.29Z M70.81,89.29 Q76.37,84.46 77.57,74.78 Q70.93,81.93 70.81,89.29Z M76.71,85.22 Q82.44,86.49 88.11,81.47 Q80.57,80.79 76.71,85.22Z M76.71,85.22 Q81.43,79.57 81.08,69.82 Q75.66,77.93 76.71,85.22Z M81.79,80.16 Q87.66,80.13 92.08,73.98 Q84.57,74.99 81.79,80.16Z M81.79,80.16 Q85.11,74.23 82.55,65.68 Q79.12,73.92 81.79,80.16Z M85.36,73.92 Q91.07,72.57 93.98,65.58 Q86.90,68.26 85.36,73.92Z M85.36,73.92 Q87.36,68.02 83.09,61.12 Q81.45,69.07 85.36,73.92Z M87.49,67.07 Q92.53,64.86 93.53,57.88 Q87.52,61.56 87.49,67.07Z M87.49,67.07 Q88.39,61.46 83.05,56.46 Q82.86,63.77 87.49,67.07Z M87.99,59.94 Q92.07,56.78 90.86,50.36 Q86.32,55.05 87.99,59.94Z M87.99,59.94 Q87.65,54.79 81.66,52.20 Q83.01,58.58 87.99,59.94Z M86.63,54.12 Q89.61,50.32 86.58,45.12 Q83.61,50.36 86.63,54.12Z M86.63,54.12 Q85.32,49.64 79.56,49.41 Q82.00,54.64 86.63,54.12Z M86.05,53.08 Q87.17,49.40 83.73,45.95 Q82.98,50.76 86.05,53.08Z" fill="#46a22c"/>
</g>
<text x="0" y="0" transform="translate(34.85,43.8) rotate(-25) scale(1.32,1)" text-anchor="middle" dy="3.2" style="font-weight:bold;font-size:8.8px;fill:#000;stroke:#000;stroke-width:0.35px">C</text>
<text x="0" y="0" transform="translate(43.6,40.8) rotate(-14) scale(1.32,1)" text-anchor="middle" dy="3.2" style="font-weight:bold;font-size:8.8px;fill:#000;stroke:#000;stroke-width:0.35px">I</text>
<text x="0" y="0" transform="translate(52.3,39.9) rotate(-3) scale(1.32,1)" text-anchor="middle" dy="3.2" style="font-weight:bold;font-size:8.8px;fill:#000;stroke:#000;stroke-width:0.35px">L</text>
<text x="0" y="0" transform="translate(63.0,40.3) rotate(6) scale(1.32,1)" text-anchor="middle" dy="3.2" style="font-weight:bold;font-size:8.8px;fill:#000;stroke:#000;stroke-width:0.35px">S</text>
<text x="0" y="0" transform="translate(73.5,43.0) rotate(20) scale(1.32,1)" text-anchor="middle" dy="3.2" style="font-weight:bold;font-size:8.8px;fill:#000;stroke:#000;stroke-width:0.35px">S</text>

</g>
</g>
<g fill="none" stroke-linecap="square">
<line x1="8.0" y1="29.3" x2="773.5" y2="29.3" stroke="#2e2e2e" stroke-width="1.0"/>
<line x1="8.0" y1="457.8" x2="773.5" y2="457.8" stroke="#333" stroke-width="0.95"/>
<line x1="8.0" y1="29.3" x2="8.0" y2="457.8" stroke="#222" stroke-width="1.0"/>
<line x1="773.5" y1="29.3" x2="773.5" y2="457.8" stroke="#222" stroke-width="1.0"/>
</g>
<g id="cbar">
<rect x="168.30" y="467.8" width="44.74" height="19.50" fill="#ffffff"/>
<rect x="212.74" y="467.8" width="44.74" height="19.50" fill="#ccffcc"/>
<rect x="257.18" y="467.8" width="44.74" height="19.50" fill="#99f0b2"/>
<rect x="301.62" y="467.8" width="44.74" height="19.50" fill="#53bd9f"/>
<rect x="346.06" y="467.8" width="44.74" height="19.50" fill="#32a696"/>
<rect x="390.50" y="467.8" width="44.74" height="19.50" fill="#0570b0"/>
<rect x="434.94" y="467.8" width="44.74" height="19.50" fill="#05508c"/>
<rect x="479.38" y="467.8" width="44.74" height="19.50" fill="#ff9900"/>
<rect x="523.82" y="467.8" width="44.74" height="19.50" fill="#ff0000"/>
<rect x="568.26" y="467.8" width="44.74" height="19.50" fill="#990000"/>
<g fill="none" stroke-linecap="square"><line x1="168.3" y1="468.0" x2="612.7" y2="468.0" stroke="#3a3a3a" stroke-width="1.0"/><line x1="168.3" y1="487.3" x2="612.7" y2="487.3" stroke="#111" stroke-width="0.9"/><line x1="168.3" y1="468.0" x2="168.3" y2="487.3" stroke="#111" stroke-width="0.9"/><line x1="612.7" y1="468.0" x2="612.7" y2="487.3" stroke="#111" stroke-width="0.9"/></g>
<line x1="168.30" y1="487.3" x2="168.30" y2="490.5" stroke="#111" stroke-width="0.8"/><text class="k" transform="translate(168.60,501.75) scale(1.19,1)">0</text>
<line x1="212.74" y1="487.3" x2="212.74" y2="490.5" stroke="#111" stroke-width="0.8"/><text class="k" transform="translate(213.04,501.75) scale(1.19,1)">10</text>
<line x1="257.18" y1="487.3" x2="257.18" y2="490.5" stroke="#111" stroke-width="0.8"/><text class="k" transform="translate(257.48,501.75) scale(1.19,1)">20</text>
<line x1="301.62" y1="487.3" x2="301.62" y2="490.5" stroke="#111" stroke-width="0.8"/><text class="k" transform="translate(301.92,501.75) scale(1.19,1)">40</text>
<line x1="346.06" y1="487.3" x2="346.06" y2="490.5" stroke="#111" stroke-width="0.8"/><text class="k" transform="translate(346.36,501.75) scale(1.19,1)">60</text>
<line x1="390.50" y1="487.3" x2="390.50" y2="490.5" stroke="#111" stroke-width="0.8"/><text class="k" transform="translate(390.80,501.75) scale(1.19,1)">100</text>
<line x1="434.94" y1="487.3" x2="434.94" y2="490.5" stroke="#111" stroke-width="0.8"/><text class="k" transform="translate(435.24,501.75) scale(1.19,1)">200</text>
<line x1="479.38" y1="487.3" x2="479.38" y2="490.5" stroke="#111" stroke-width="0.8"/><text class="k" transform="translate(479.68,501.75) scale(1.19,1)">300</text>
<line x1="523.82" y1="487.3" x2="523.82" y2="490.5" stroke="#111" stroke-width="0.8"/><text class="k" transform="translate(524.12,501.75) scale(1.19,1)">500</text>
<line x1="568.26" y1="487.3" x2="568.26" y2="490.5" stroke="#111" stroke-width="0.8"/><text class="k" transform="translate(568.56,501.75) scale(1.19,1)">1000</text>
<line x1="612.70" y1="487.3" x2="612.70" y2="490.5" stroke="#111" stroke-width="0.8"/><text class="k" transform="translate(613.00,501.75) scale(1.19,1)">1500</text>
</g>
</svg>
</body></html>
